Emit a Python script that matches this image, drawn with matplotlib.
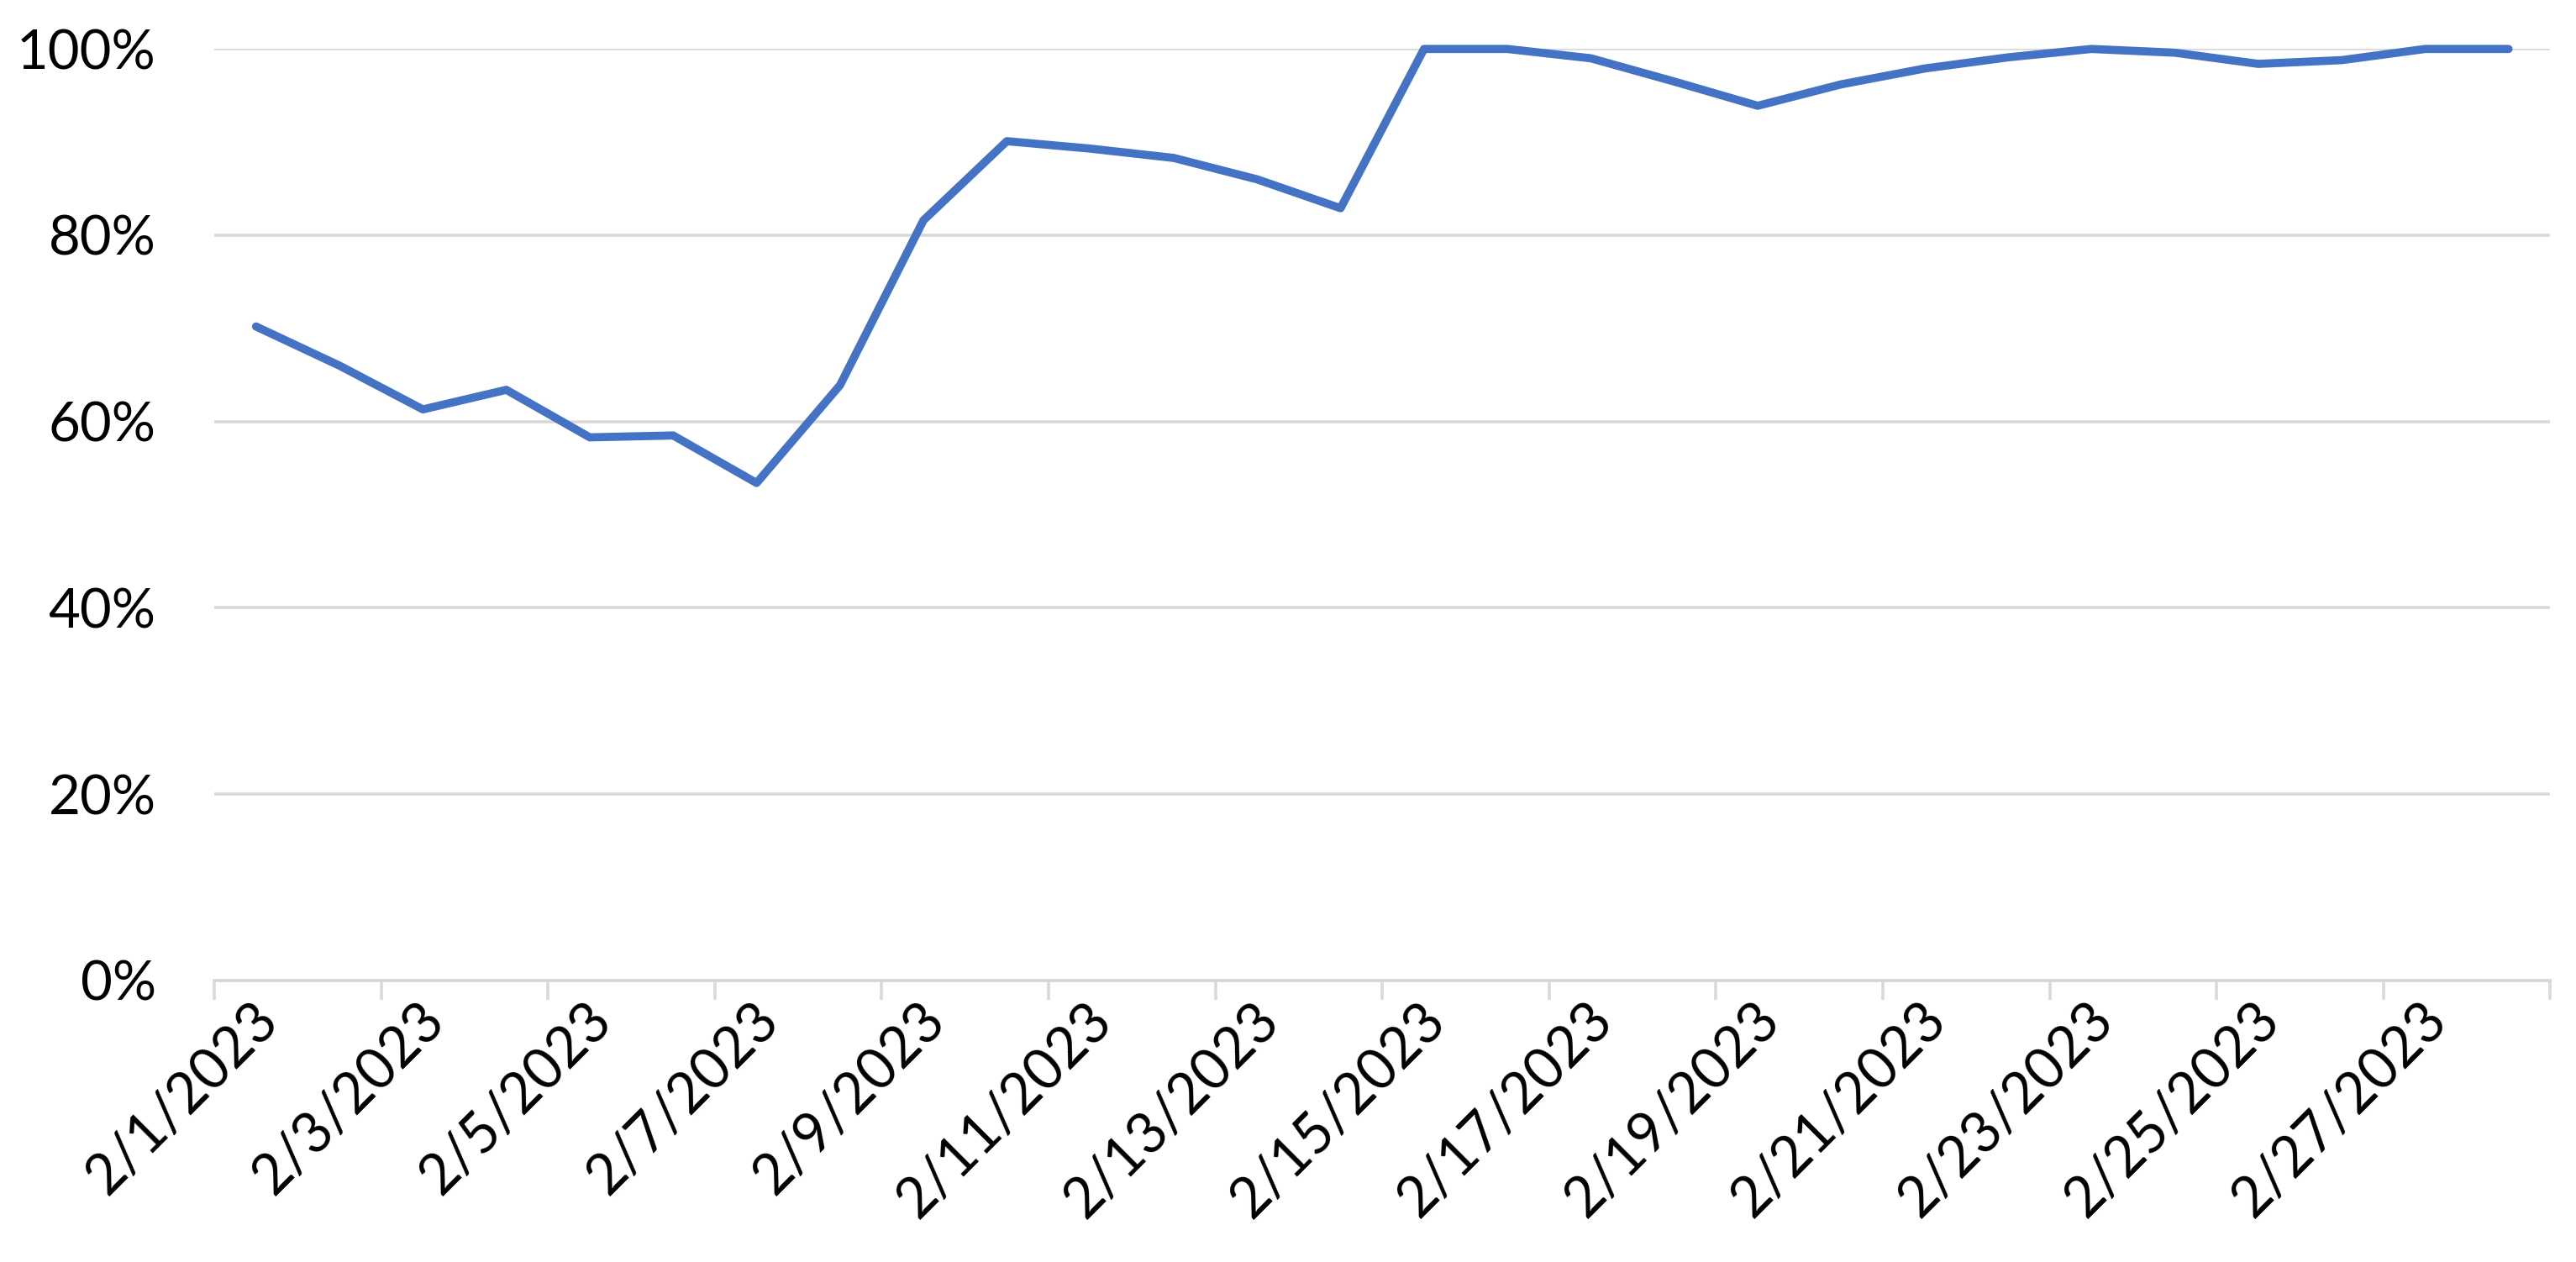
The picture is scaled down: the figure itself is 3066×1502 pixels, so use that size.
import matplotlib
matplotlib.use("Agg")
import matplotlib.pyplot as plt
from matplotlib.transforms import ScaledTranslation

# ---- data ----
dates = ["2/1/2023", "2/2/2023", "2/3/2023", "2/4/2023", "2/5/2023", "2/6/2023",
         "2/7/2023", "2/8/2023", "2/9/2023", "2/10/2023", "2/11/2023", "2/12/2023",
         "2/13/2023", "2/14/2023", "2/15/2023", "2/16/2023", "2/17/2023", "2/18/2023",
         "2/19/2023", "2/20/2023", "2/21/2023", "2/22/2023", "2/23/2023", "2/24/2023",
         "2/25/2023", "2/26/2023", "2/27/2023", "2/28/2023"]
values = [0.702, 0.660, 0.613, 0.634, 0.583, 0.585, 0.534, 0.639, 0.816, 0.901,
          0.893, 0.883, 0.860, 0.829, 1.000, 1.000, 0.990, 0.965, 0.939, 0.962,
          0.979, 0.991, 1.000, 0.996, 0.984, 0.988, 1.000, 1.000]
y_ticks = [0.0, 0.2, 0.4, 0.6, 0.8, 1.0]
y_tick_labels = ["0%", "20%", "40%", "60%", "80%", "100%"]

FONT = ["Lato", "DejaVu Sans"]
plt.rcParams["font.family"] = FONT

fig = plt.figure(figsize=(30.66, 15.02), dpi=100)
ax = fig.add_axes([0.0832, 0.2232, 0.990 - 0.0832, 0.9612 - 0.2232])

n = len(dates)
xs = list(range(n))
ax.plot(xs, values, color="#4472C4", lw=7, clip_on=False,
        solid_joinstyle="round", solid_capstyle="round", zorder=3)

ax.set_xlim(-0.5, n - 0.5)
ax.set_ylim(0, 1)

# y axis
ax.set_yticks(y_ticks)
ax.set_yticklabels(y_tick_labels)
ax.yaxis.grid(True, color="#D9D9D9", lw=2.6)
ax.set_axisbelow(True)
ax.tick_params(axis="y", length=0, pad=50, labelsize=47, labelcolor="#000000")

for s in ["top", "right", "left"]:
    ax.spines[s].set_visible(False)
ax.spines["bottom"].set_color("#D9D9D9")
ax.spines["bottom"].set_linewidth(2.8)

# x axis: tick marks at every second category boundary, labels at every second category
ax.set_xticks([b - 0.5 for b in range(0, n + 1, 2)])
ax.set_xticks(xs[::2], minor=True)
ax.set_xticklabels(dates[::2], minor=True)
ax.tick_params(axis="x", which="major", length=16.5, width=2.6, color="#D9D9D9",
               labelbottom=False)
ax.tick_params(axis="x", which="minor", length=0, pad=11, labelsize=48,
               labelcolor="#000000")
offset = ScaledTranslation(-0.06, 0, fig.dpi_scale_trans)
for lbl in ax.get_xticklabels(minor=True):
    lbl.set_rotation(45)
    lbl.set_ha("right")
    lbl.set_va("top")
    lbl.set_rotation_mode("anchor")
    lbl.set_transform(lbl.get_transform() + offset)

fig.savefig("out.png", dpi=100, facecolor="white")
